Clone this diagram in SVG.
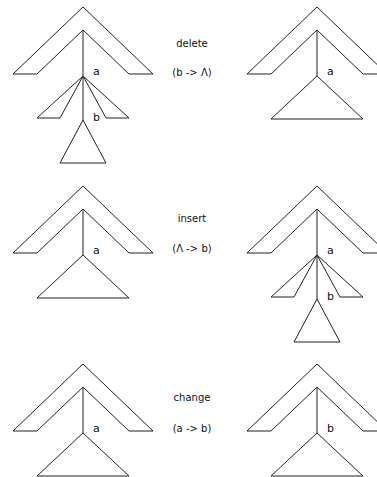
<svg xmlns="http://www.w3.org/2000/svg" width="377" height="477" viewBox="0 0 377 477">
<style>
.s{fill:none;stroke:#222;stroke-width:1;stroke-linejoin:miter}
.t{font-family:"DejaVu Sans",Verdana,sans-serif;font-size:10px;fill:#111}
.l{font-family:"DejaVu Sans",Verdana,sans-serif;font-size:11px;fill:#111}
</style>
<defs>
<path id="chev" d="M-70,67 L0,0 L70,67 L46,67 L0,23 L-46,67 Z"/>
<path id="tri" d="M0,69 L-46,112 L46,112 Z"/>
<path id="fan" d="M0,69 L-46,111 L-23,111 Z M0,69 L46,111 L23,111 Z M0,69 L0,113 M0,113 L-23,156 L23,156 Z"/>
</defs>
<rect width="377" height="477" fill="#fff"/>
<g id="delete-before" transform="translate(83,7)">
<use href="#chev" class="s"/><path class="s" d="M0,23 V69"/><use href="#fan" class="s"/>
<text class="l" x="10" y="68">a</text><text class="l" x="10" y="114">b</text>
</g>
<g id="delete-after" transform="translate(317,7)">
<use href="#chev" class="s"/><path class="s" d="M0,23 V69"/><use href="#tri" class="s"/>
<text class="l" x="10" y="68">a</text>
</g>
<g id="insert-before" transform="translate(83,186)">
<use href="#chev" class="s"/><path class="s" d="M0,23 V69"/><use href="#tri" class="s"/>
<text class="l" x="10" y="68">a</text>
</g>
<g id="insert-after" transform="translate(317,186)">
<use href="#chev" class="s"/><path class="s" d="M0,23 V69"/><use href="#fan" class="s"/>
<text class="l" x="10" y="68">a</text><text class="l" x="10" y="114">b</text>
</g>
<g id="change-before" transform="translate(83,364)">
<use href="#chev" class="s"/><path class="s" d="M0,23 V69"/><use href="#tri" class="s"/>
<text class="l" x="10" y="68">a</text>
</g>
<g id="change-after" transform="translate(317,364)">
<use href="#chev" class="s"/><path class="s" d="M0,23 V69"/><use href="#tri" class="s"/>
<text class="l" x="10" y="68">b</text>
</g>
<g id="labels" text-anchor="middle">
<text class="t" x="192" y="47">delete</text>
<text class="t" x="192" y="76">(b -&gt; Λ)</text>
<text class="t" x="192" y="222">insert</text>
<text class="t" x="192" y="252">(Λ -&gt; b)</text>
<text class="t" x="192" y="401">change</text>
<text class="t" x="192" y="432">(a -&gt; b)</text>
</g>
</svg>
